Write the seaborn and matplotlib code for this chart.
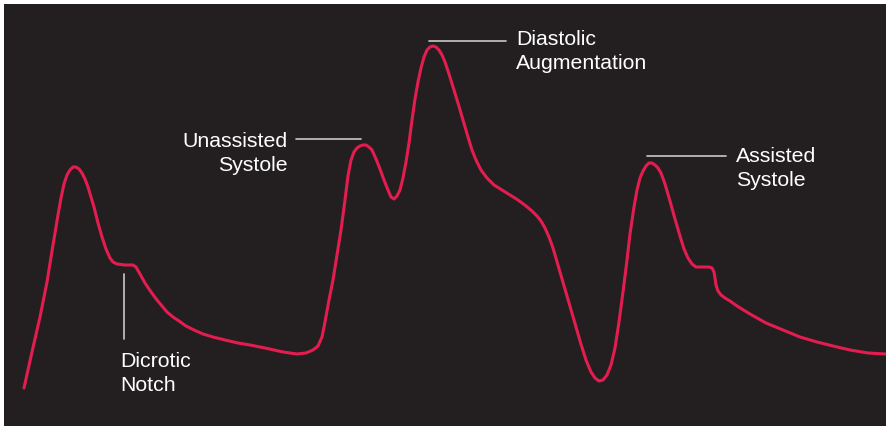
import numpy as np
import matplotlib
matplotlib.use("Agg")
import matplotlib.pyplot as plt
import seaborn as sns

# Arterial pressure trace with intra-aortic balloon pump augmentation
# time in samples, depth below the top edge
time = [24, 32, 40, 47, 53, 58, 61, 64, 67, 70, 73, 76, 79, 82, 85, 88, 91,
        94, 98, 102, 106, 110, 113, 117, 125, 133, 136, 140, 145, 151, 157,
        162, 167, 173, 179, 186, 194, 203, 213, 225, 238, 250, 265, 283, 297,
        306, 313, 318, 322, 325, 329, 333, 337, 341, 345, 348, 351, 354, 357,
        360, 363, 366, 369, 372, 376, 380, 384, 388, 391, 394, 397, 400, 403,
        406, 409, 412, 415, 418, 421, 424, 427, 430, 433, 436, 439, 442, 445,
        449, 453, 458, 463, 468, 472, 476, 481, 487, 494, 502, 510, 518, 526,
        532, 537, 541, 545, 549, 553, 560, 567, 574, 580, 586, 591, 595, 599,
        603, 607, 611, 615, 619, 623, 627, 630, 634, 637, 640, 643, 646, 649,
        652, 655, 658, 661, 665, 670, 675, 680, 684, 688, 692, 696, 703, 709,
        712, 714, 715, 716, 718, 721, 725, 730, 737, 750, 766, 783, 800, 817,
        833, 850, 868, 886]
depth = [388, 352, 317, 282, 245, 215, 198, 184, 175, 170, 167, 167, 169, 173,
         179, 187, 197, 207, 223, 237, 249, 258, 262, 264, 265, 265, 267, 274,
         283, 292, 300, 306, 312, 317, 321, 326, 330, 334, 337, 340, 343, 345,
         348, 352, 354, 353, 350, 346, 337, 322, 300, 280, 255, 230, 200, 176,
         160, 152, 148, 146, 145, 145, 147, 150, 159, 169, 180, 190, 197, 199,
         196, 190, 178, 162, 143, 120, 99, 82, 68, 57, 50, 47, 46, 47, 50, 55,
         62, 74, 87, 103, 120, 137, 150, 160, 170, 178, 185, 190, 195, 200,
         206, 211, 216, 221, 228, 237, 248, 272, 296, 320, 341, 360, 372, 378,
         381, 380, 375, 365, 348, 322, 292, 260, 234, 207, 190, 178, 171, 166,
         163, 163, 165, 168, 173, 184, 201, 219, 236, 249, 258, 264, 267, 267,
         267, 268, 272, 278, 285, 291, 295, 298, 301, 306, 314, 323, 330, 337,
         342, 346, 350, 353, 354]
pressure = [426 - d for d in depth]

labels = ["Dicrotic\nNotch", "Unassisted\nSystole",
          "Diastolic\nAugmentation", "Assisted\nSystole"]

bg = "#231f20"
red = "#e31d4f"
lead = "#c8c8c8"

sns.set_theme(style="white")
plt.rcParams["font.family"] = ["Liberation Sans", "DejaVu Sans"]

fig = plt.figure(figsize=(8.86, 4.26), dpi=100, facecolor="white")
ax = fig.add_axes([4 / 886, 0, 882 / 886, 422 / 426])
ax.set_facecolor(bg)

sns.lineplot(x=time, y=pressure, ax=ax, sort=False, estimator=None,
             color=red, linewidth=2.2, solid_joinstyle="round",
             solid_capstyle="round")

ax.set_xlim(4, 886)
ax.set_ylim(0, 422)
ax.set_xticks([])
ax.set_yticks([])
ax.set_xlabel("")
ax.set_ylabel("")
for s in ax.spines.values():
    s.set_visible(False)

fs = 15.3
lw = 1.2
ls = 1.36
tkw = dict(color="white", fontsize=fs, va="baseline", linespacing=ls)

# Dicrotic notch: vertical leader
ax.plot([124, 124], [426 - 274, 426 - 339], color=lead, lw=lw)
ax.text(120, 426 - 391, labels[0], ha="left", **tkw)

# Unassisted systole
ax.plot([296, 361], [426 - 139, 426 - 139], color=lead, lw=lw)
ax.text(288, 426 - 171, labels[1], ha="right", multialignment="right", **tkw)

# Diastolic augmentation
ax.plot([429, 506], [426 - 41, 426 - 41], color=lead, lw=lw)
ax.text(516, 426 - 69, labels[2], ha="left", **tkw)

# Assisted systole
ax.plot([647, 726], [426 - 156, 426 - 156], color=lead, lw=lw)
ax.text(736, 426 - 186, labels[3], ha="left", **tkw)

fig.savefig("out.png", dpi=100, facecolor="white")
